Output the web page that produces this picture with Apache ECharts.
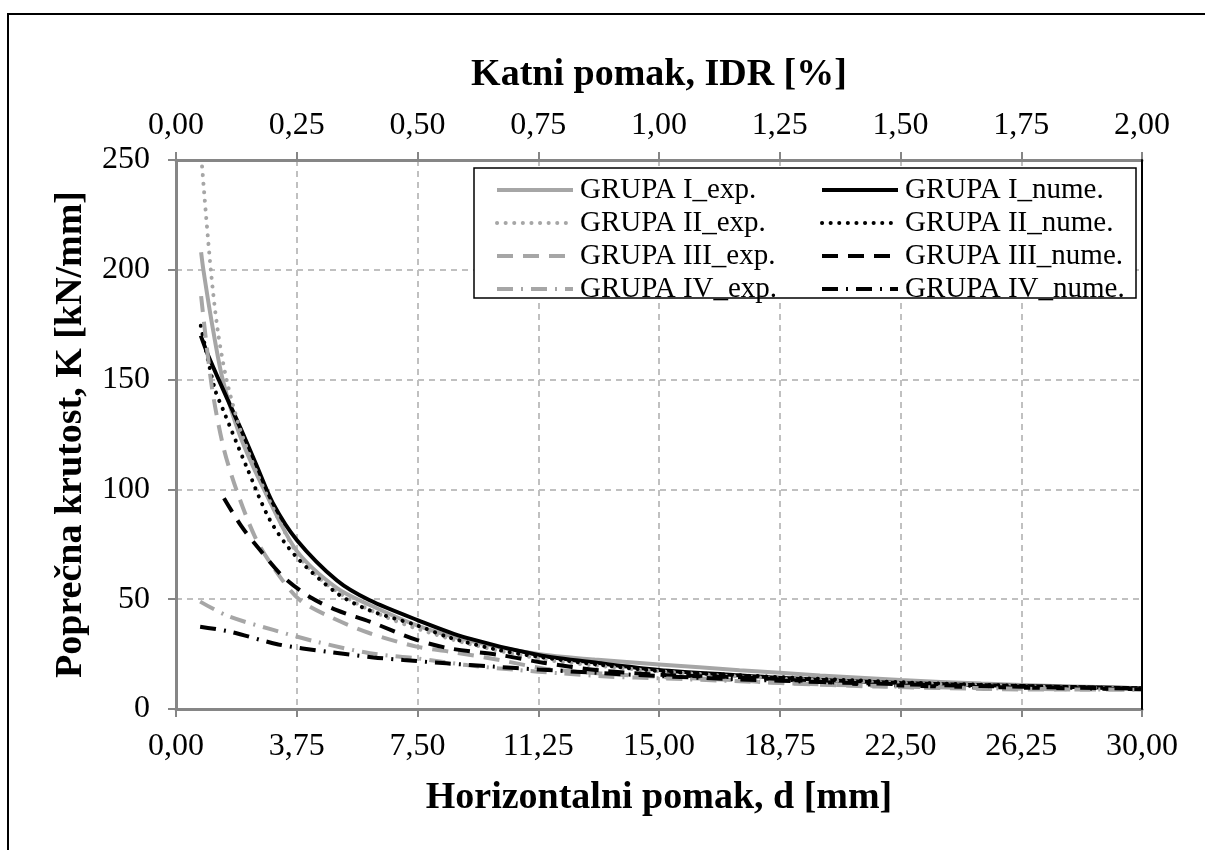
<!DOCTYPE html>
<html>
<head>
<meta charset="utf-8">
<script src="https://cdn.jsdelivr.net/npm/echarts@6/dist/echarts.min.js"></script>
<style>
  html, body { margin: 0; padding: 0; background: #fff; }
  #chart { width: 1205px; height: 850px; }
</style>
</head>
<body>
<div id="chart"></div>
<script>
// ticks
var xTicksMm = [0, 3.75, 7.5, 11.25, 15, 18.75, 22.5, 26.25, 30];
var xTicksIdr = [0, 0.25, 0.5, 0.75, 1, 1.25, 1.5, 1.75, 2];
var yTicks = [0, 50, 100, 150, 200, 250];

// ocitane vrijednosti (d [mm], K [kN/mm])
var d1exp = [0.78, 0.85, 1.1, 1.45, 2.0, 2.8, 3.75, 5.0, 6.0, 7.5, 9.0, 11.25, 13.0, 15.0, 17.5, 20.0, 22.5, 25.0, 27.5, 30.0];
var k1exp = [208, 200, 177, 150, 124, 98, 72, 55, 47.5, 38, 31.5, 25, 22.5, 20.3, 17.7, 15.3, 13.2, 11.6, 10.4, 9.5];

var d1num = [0.77, 1.0, 1.6, 2.0, 2.5, 3.0, 3.75, 5.0, 6.0, 7.5, 9.0, 11.25, 13.2, 15.0, 17.3, 18.75, 22.5, 26.25, 30.0];
var k1num = [170, 161, 141, 128, 111, 94, 77, 58.5, 49.6, 40.5, 32.5, 24.6, 20.8, 17.8, 15.5, 14.2, 11.8, 10.5, 9.4];

var d2exp = [0.81, 1.08, 1.3, 1.57, 2.0, 2.5, 3.0, 3.75, 4.5, 5.5, 6.5, 7.5, 9.0, 11.25, 13.0, 15.0, 17.5, 20.0, 22.5, 25.0, 27.5, 30.0];
var k2exp = [247, 200, 172, 150, 127, 108, 92, 71, 59, 49, 42, 36.5, 30, 23, 19.8, 17.2, 14.8, 13.2, 11.9, 10.9, 10.0, 9.3];

var d2num = [0.77, 1.2, 1.47, 2.2, 2.92, 3.73, 5.0, 6.0, 7.5, 8.5, 10.0, 11.25, 13.2, 15.2, 17.3, 19.4, 22.5, 25.0, 27.5, 30.0];
var k2num = [174.5, 146, 136, 110, 86, 69.4, 52.7, 45, 38, 32.5, 26.9, 23.8, 20, 17, 15.5, 14.1, 12.2, 11, 10, 9.3];

var d3exp = [0.78, 1.11, 1.47, 1.88, 2.5, 3.23, 3.85, 4.78, 6.02, 7.47, 8.5, 10.06, 11.4, 13.2, 15.2, 17.3, 18.9, 21.8, 24.0, 26.2, 28.0, 30.0];
var k3exp = [188, 147, 119.4, 99.7, 77, 60.2, 49.6, 42, 34.5, 28.4, 26.1, 22.3, 18.5, 16.2, 14.5, 13.2, 11.7, 10.2, 9.5, 8.9, 8.9, 9.0];

var d3num = [1.49, 2.04, 2.61, 3.33, 4.16, 4.99, 6.02, 7.47, 8.5, 10.06, 11.4, 13.2, 15.2, 17.3, 19.4, 21.0, 23.4, 26.0, 30.0];
var k3num = [96, 83, 72.4, 60.2, 51, 45, 39.8, 31.5, 27.6, 24.6, 21.1, 17.5, 15.5, 14.5, 13.0, 11.5, 10.4, 9.8, 9.0];

var d4exp = [0.75, 1.62, 3.02, 4.37, 6.02, 7.47, 9.03, 10.58, 11.9, 13.5, 15.03, 17.9, 20.0, 22.5, 25.5, 28.0, 30.0];
var k4exp = [48.9, 42.3, 36, 30.6, 25.4, 23.1, 20, 17.8, 16.3, 14.7, 14.0, 12.4, 11.2, 10.2, 9.4, 8.9, 8.8];

var d4num = [0.75, 1.68, 3.18, 4.68, 6.13, 7.06, 8.4, 9.85, 11.25, 13.0, 15.0, 17.5, 20.0, 22.5, 25.0, 27.5, 30.0];
var k4num = [37.5, 35.2, 29.4, 26.1, 23.5, 22.3, 20.8, 19.3, 18, 16.5, 15, 13.5, 12.3, 11.3, 10.5, 9.8, 9.2];

var FONT = '"Liberation Serif", "Times New Roman", serif';
var GRAY = '#a6a6a6';
var AXIS = '#868686';

function zip(d, k) {
    var out = [];
    for (var i = 0; i < d.length; i++) out.push([d[i], k[i]]);
    return out;
}

function comma(v) {
    return v.toFixed(2).replace('.', ',');
}

function line(name, d, k, color, type, cap) {
    return {
        name: name,
        type: 'line',
        data: zip(d, k),
        smooth: 0.3,
        symbol: 'none',
        showSymbol: false,
        xAxisIndex: 0,
        yAxisIndex: 0,
        lineStyle: { color: color, width: 4, type: type, cap: cap || 'butt' },
        itemStyle: { color: color }
    };
}

var DOT = [0.1, 8.5];
var DASH = [16, 10];
var DASHDOT = [16, 8, 2, 8];

var legendText = { fontFamily: FONT, fontSize: 29, color: '#000', lineHeight: 30, padding: [0, 0, 0, 2] };

var chart = echarts.init(document.getElementById('chart'));

var option = {
    animation: false,
    backgroundColor: '#fff',
    grid: { left: 176, right: 63, top: 160, bottom: 141, containLabel: false },
    graphic: [
        {
            type: 'rect', z: 0,
            shape: { x: 8, y: 14, width: 1250, height: 900 },
            style: { fill: 'none', stroke: '#000', lineWidth: 2 }
        },
        {
            type: 'rect', z: 50,
            shape: { x: 474, y: 168, width: 662, height: 130 },
            style: { fill: '#fff', stroke: '#000', lineWidth: 1.5 }
        }
    ],
    legend: [
        {
            data: ['GRUPA I_exp.', 'GRUPA II_exp.', 'GRUPA III_exp.', 'GRUPA IV_exp.'],
            orient: 'vertical', left: 490, top: 170, z: 60,
            itemWidth: 76, itemHeight: 14, itemGap: 3,
            itemStyle: { opacity: 0 },
            lineStyle: { width: 4 },
            textStyle: legendText
        },
        {
            data: ['GRUPA I_nume.', 'GRUPA II_nume.', 'GRUPA III_nume.', 'GRUPA IV_nume.'],
            orient: 'vertical', left: 815, top: 170, z: 60,
            itemWidth: 76, itemHeight: 14, itemGap: 3,
            itemStyle: { opacity: 0 },
            lineStyle: { width: 4 },
            textStyle: legendText
        }
    ],
    xAxis: [
        {
            type: 'value', position: 'bottom',
            min: xTicksMm[0], max: xTicksMm[xTicksMm.length - 1], interval: 3.75,
            name: 'Horizontalni pomak, d [mm]', nameLocation: 'middle', nameGap: 70,
            nameTextStyle: { fontFamily: FONT, fontSize: 38, fontWeight: 'bold', color: '#000' },
            axisLine: { show: true, onZero: false, lineStyle: { color: AXIS, width: 3 } },
            axisTick: { show: true, length: 8, lineStyle: { color: AXIS, width: 2 } },
            axisLabel: { fontFamily: FONT, fontSize: 32, color: '#000', margin: 22, formatter: comma },
            splitLine: { show: true, lineStyle: { color: '#c0c0c0', width: 2, type: [6, 5] } }
        },
        {
            type: 'value', position: 'top',
            min: xTicksIdr[0], max: xTicksIdr[xTicksIdr.length - 1], interval: 0.25,
            name: 'Katni pomak, IDR [%]', nameLocation: 'middle', nameGap: 66,
            nameTextStyle: { fontFamily: FONT, fontSize: 38, fontWeight: 'bold', color: '#000' },
            axisLine: { show: true, onZero: false, lineStyle: { color: AXIS, width: 3 } },
            axisTick: { show: true, length: 8, lineStyle: { color: AXIS, width: 2 } },
            axisLabel: { fontFamily: FONT, fontSize: 32, color: '#000', margin: 18, formatter: comma },
            splitLine: { show: false }
        }
    ],
    yAxis: [
        {
            type: 'value', position: 'left',
            min: yTicks[0], max: yTicks[yTicks.length - 1], interval: 50,
            name: 'Poprečna krutost, K [kN/mm]', nameLocation: 'middle', nameGap: 86,
            nameTextStyle: { fontFamily: FONT, fontSize: 38, fontWeight: 'bold', color: '#000' },
            axisLine: { show: true, onZero: false, lineStyle: { color: AXIS, width: 3 } },
            axisTick: { show: true, length: 8, lineStyle: { color: AXIS, width: 2 } },
            axisLabel: { fontFamily: FONT, fontSize: 32, color: '#000', margin: 26 },
            splitLine: { show: true, lineStyle: { color: '#c0c0c0', width: 2, type: [6, 5] } }
        },
        {
            type: 'value', position: 'right',
            min: yTicks[0], max: yTicks[yTicks.length - 1], interval: 50,
            axisLine: { show: true, onZero: false, lineStyle: { color: '#000', width: 2 } },
            axisTick: { show: false },
            axisLabel: { show: false },
            splitLine: { show: false },
            z: 10
        }
    ],
    series: [
        line('GRUPA I_exp.', d1exp, k1exp, GRAY, 'solid'),
        line('GRUPA I_nume.', d1num, k1num, '#000', 'solid'),
        line('GRUPA II_exp.', d2exp, k2exp, GRAY, DOT, 'round'),
        line('GRUPA II_nume.', d2num, k2num, '#000', DOT, 'round'),
        line('GRUPA III_exp.', d3exp, k3exp, GRAY, DASH),
        line('GRUPA III_nume.', d3num, k3num, '#000', DASH),
        line('GRUPA IV_exp.', d4exp, k4exp, GRAY, DASHDOT),
        line('GRUPA IV_nume.', d4num, k4num, '#000', DASHDOT)
    ]
};

chart.setOption(option);

window.onresize = function () {
    chart.resize();
};
</script>
</body>
</html>
